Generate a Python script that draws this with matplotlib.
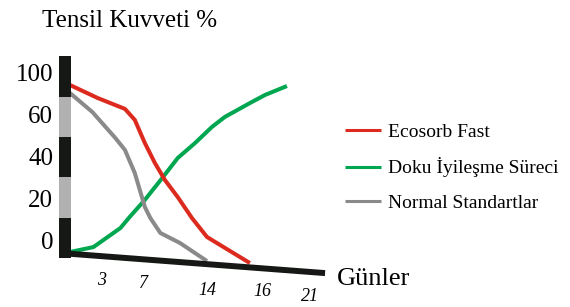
import numpy as np
import matplotlib
matplotlib.use("Agg")
import matplotlib.pyplot as plt

plt.rcParams['font.family'] = ['Liberation Serif', 'DejaVu Serif']

# days on x, tensile strength % on y
red_days = [0, 2.6, 5.24, 6.2, 7.2, 8.3, 9.4, 10.8, 12.35, 14.0, 15.56]
red_vals = [92.8, 85.0, 78.5, 71.9, 58.1, 46.1, 35.9, 25.7, 13.2, 1.8, -13.8]

green_days = [0, 2.2, 4.8, 5.7, 7.2, 9.1, 10.8, 12.7, 14.18, 14.65, 15.56, 16.3, 18.6]
green_vals = [-7.2, -4.2, 7.2, 13.8, 24.0, 37.1, 49.1, 58.1, 67.7, 73.7, 82.0, 86.8, 92.2]

grey_days = [0, 2.1, 4.3, 5.24, 6.2, 7.2, 7.8, 8.9, 11.05, 14.0]
grey_vals = [88, 76.6, 61.1, 53.9, 40.1, 19.8, 13.2, 4.2, -1.8, -12.6]

series_names = ['Ecosorb Fast', 'Doku İyileşme Süreci', 'Normal Standartlar']

x_ticks = [3, 7, 14, 16, 21]
y_ticks = [0, 25, 50, 75, 100]
y_tick_labels = ['0', '20', '40', '60', '100']

# uneven day spacing of the original drawing
day_knots = [-0.5, 0, 3, 7, 14, 16, 21, 40]
pos_knots = [65, 70, 102, 143, 207, 262, 310, 570]

# striped y axis bar (black / grey bands)
band_edges = [-10.8, 13.2, 37.7, 61.7, 85.6, 110.2]
band_colors = ['#161816', '#b0b1b0', '#161816', '#b0b1b0', '#161816']

# slanted day axis
axis_days = [-0.5, 22.1]
axis_vals = [-8.0, -19.8]

RED = '#dc2a1e'
GREEN = '#00a650'
GREY = '#8a8a8a'


def fwd(d):
    return np.interp(d, day_knots, pos_knots)


def inv(p):
    return np.interp(p, pos_knots, day_knots)


fig = plt.figure(figsize=(5.7, 3.07), dpi=100)
ax = fig.add_axes([65 / 570, 0, 1 - 65 / 570, 1])
ax.set_xscale('function', functions=(fwd, inv))
ax.set_xlim(-0.5, 40)
ax.set_ylim(-40.1, 143.7)
for s in ax.spines.values():
    s.set_visible(False)
ax.set_xticks([])

lw = 2.9
ax.plot(green_days, green_vals, color=GREEN, lw=lw, solid_capstyle='butt',
        solid_joinstyle='round', label=series_names[1])
ax.plot(grey_days, grey_vals, color=GREY, lw=lw, solid_capstyle='butt',
        solid_joinstyle='round', label=series_names[2])
ax.plot(red_days, red_vals, color=RED, lw=lw, solid_capstyle='butt',
        solid_joinstyle='round', label=series_names[0])

# x axis line
ax.plot(axis_days, axis_vals, color='#161816', lw=4.3, solid_capstyle='butt', clip_on=False, zorder=4)

# y axis bar
for i, c in enumerate(band_colors):
    ax.vlines(0, band_edges[i], band_edges[i + 1], colors=c, lw=8.64,
              transform=ax.get_yaxis_transform(), clip_on=False, zorder=5)

ax.set_yticks(y_ticks, y_tick_labels)
ax.tick_params(axis='y', length=0, pad=8.6, labelsize=18)

# x tick labels under the slanted axis
for d in x_ticks:
    base = np.interp(d, axis_days, axis_vals)
    ax.annotate(str(d), (d, base), xytext=(0, -17.3), textcoords='offset points',
                ha='center', va='center', fontsize=13, style='italic')

fig.text(42 / 570, 1 - 27 / 307, 'Tensil Kuvveti %', fontsize=18, va='baseline', ha='left')
fig.text(337 / 570, 1 - 285 / 307, 'Günler', fontsize=19, va='baseline', ha='left')

handles, labels = ax.get_legend_handles_labels()
order = [2, 0, 1]
fig.legend([handles[i] for i in order], [labels[i] for i in order],
           loc='upper left', bbox_to_anchor=(345 / 570, 1 - 123 / 307),
           frameon=False, fontsize=14, handlelength=1.86, handletextpad=0.36,
           labelspacing=0.86, borderpad=0, borderaxespad=0)
for h in fig.legends[0].get_lines():
    h.set_linewidth(2.2)

fig.savefig('out.png', dpi=100)
